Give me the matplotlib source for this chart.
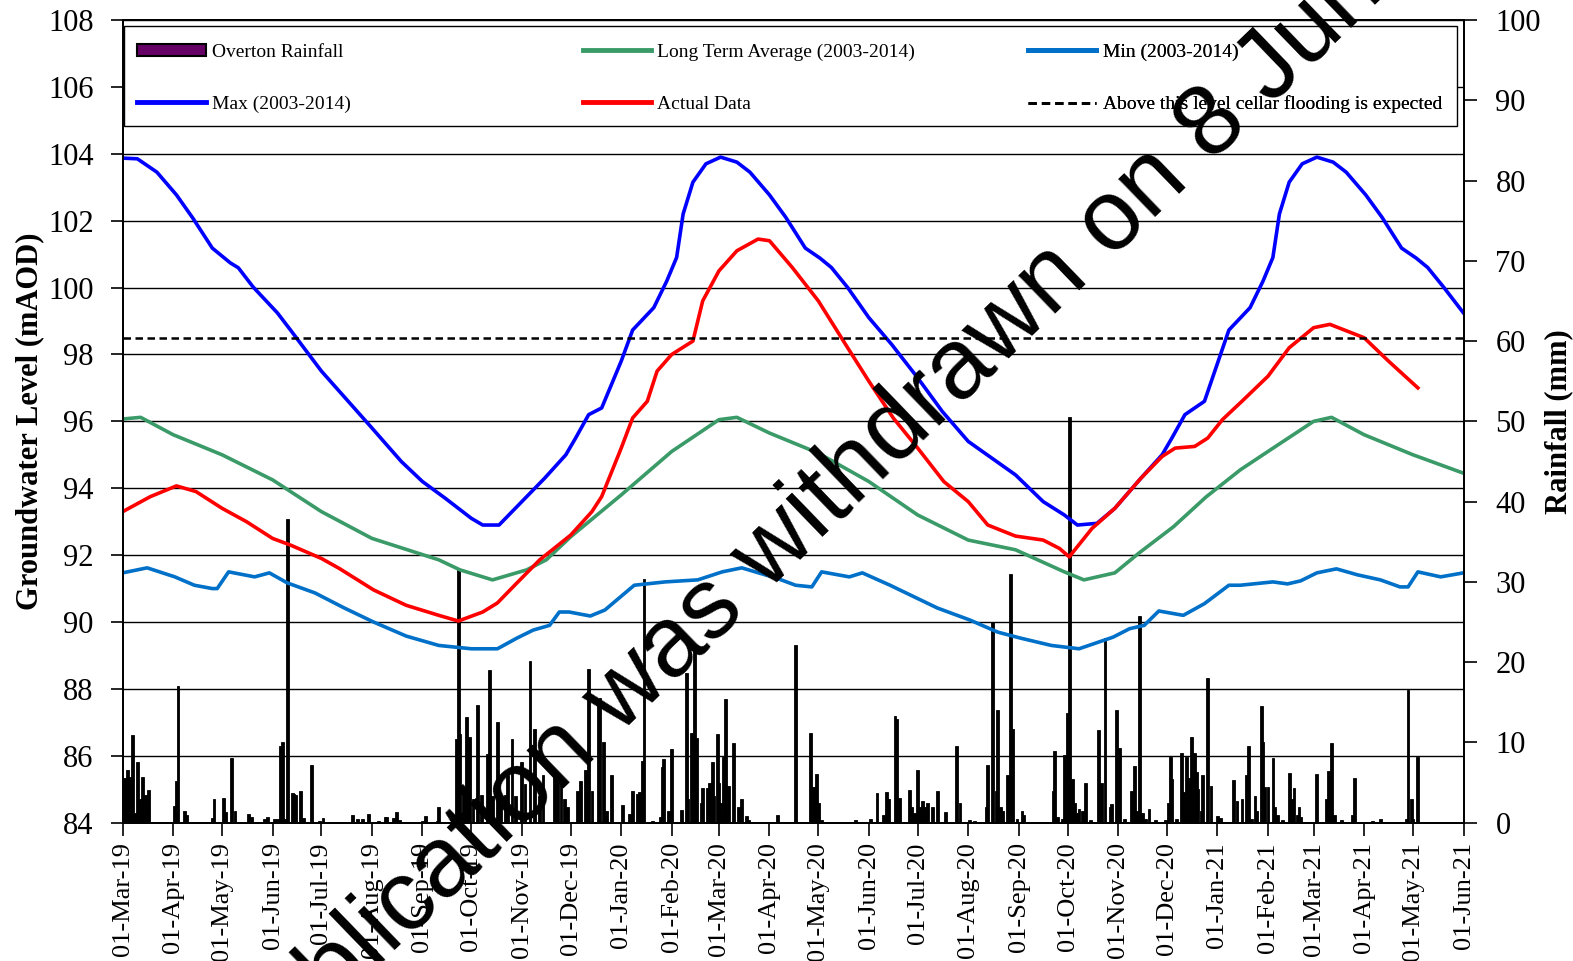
import numpy as np
import pandas as pd
import matplotlib
matplotlib.use("Agg")
import matplotlib.pyplot as plt
import matplotlib.dates as mdates
from matplotlib.patches import Patch, Rectangle
from matplotlib.lines import Line2D

plt.rcParams['font.family'] = ['Liberation Serif', 'DejaVu Serif']

# groundwater level series (mAOD)
max_dates = ['2019-03-01', '2019-03-10', '2019-03-22', '2019-04-03', '2019-04-13', '2019-04-25',
             '2019-05-06', '2019-05-11', '2019-05-20', '2019-06-04', '2019-06-12', '2019-07-01',
             '2019-08-01', '2019-08-19', '2019-09-01', '2019-09-15', '2019-10-01', '2019-10-08',
             '2019-10-18', '2019-11-01', '2019-11-15', '2019-11-28', '2019-12-04', '2019-12-12',
             '2019-12-20', '2020-01-01', '2020-01-08', '2020-01-21', '2020-01-29', '2020-02-04',
             '2020-02-08', '2020-02-14', '2020-02-22', '2020-03-02', '2020-03-12', '2020-03-20',
             '2020-04-01', '2020-04-11', '2020-04-23', '2020-05-02', '2020-05-09', '2020-05-19',
             '2020-06-01', '2020-06-15', '2020-07-01', '2020-07-16', '2020-08-01', '2020-08-30',
             '2020-09-16', '2020-09-29', '2020-10-07', '2020-10-19', '2020-10-30', '2020-11-15',
             '2020-11-28', '2020-12-04', '2020-12-12', '2020-12-18', '2020-12-24', '2021-01-08',
             '2021-01-21', '2021-01-29', '2021-02-04', '2021-02-08', '2021-02-14', '2021-02-22',
             '2021-03-03', '2021-03-13', '2021-03-21', '2021-04-02', '2021-04-12', '2021-04-24',
             '2021-05-03', '2021-05-10', '2021-05-20', '2021-06-01']
max_level = [103.87, 103.85, 103.45, 102.77, 102.08, 101.18,
             100.74, 100.59, 100.02, 99.24, 98.73, 97.5,
             95.8, 94.8, 94.2, 93.7, 93.1, 92.9,
             92.9, 93.6, 94.3, 95.0, 95.5, 96.2,
             96.4, 97.8, 98.73, 99.4, 100.2, 100.9,
             102.2, 103.15, 103.7, 103.9, 103.75, 103.45,
             102.77, 102.1, 101.18, 100.88, 100.6, 100.0,
             99.1, 98.3, 97.3, 96.3, 95.4, 94.4,
             93.6, 93.2, 92.9, 92.95, 93.4, 94.3,
             95.0, 95.5, 96.2, 96.4, 96.6, 98.73,
             99.4, 100.2, 100.9, 102.2, 103.15, 103.7,
             103.9, 103.75, 103.45, 102.77, 102.1, 101.18,
             100.88, 100.6, 100.0, 99.24]

lta_dates = ['2019-03-01', '2019-03-12', '2019-04-01', '2019-05-01', '2019-06-01', '2019-07-01',
             '2019-08-01', '2019-09-11', '2019-09-24', '2019-10-14', '2019-11-04', '2019-11-16',
             '2019-12-01', '2020-01-01', '2020-02-01', '2020-03-01', '2020-03-12', '2020-04-01',
             '2020-05-01', '2020-06-01', '2020-07-01', '2020-08-01', '2020-08-30', '2020-09-29',
             '2020-10-11', '2020-10-30', '2020-11-14', '2020-12-05', '2020-12-25', '2021-01-15',
             '2021-02-01', '2021-03-01', '2021-03-12', '2021-04-01', '2021-05-01', '2021-06-01']
lta_level = [96.07, 96.12, 95.6, 95.0, 94.25, 93.3,
             92.5, 91.86, 91.56, 91.26, 91.56, 91.86,
             92.55, 93.8, 95.1, 96.05, 96.12, 95.65,
             95.05, 94.2, 93.2, 92.45, 92.16, 91.5,
             91.26, 91.47, 92.07, 92.85, 93.74, 94.55,
             95.1, 96.0, 96.12, 95.6, 95.0, 94.45]

min_dates = ['2019-03-01', '2019-03-16', '2019-04-02', '2019-04-14', '2019-04-25', '2019-04-28',
             '2019-05-05', '2019-05-21', '2019-05-30', '2019-06-10', '2019-06-27', '2019-07-15',
             '2019-08-02', '2019-08-22', '2019-09-11', '2019-10-01', '2019-10-17', '2019-10-29',
             '2019-11-08', '2019-11-18', '2019-11-24', '2019-11-30', '2019-12-13', '2019-12-22',
             '2020-01-09', '2020-01-28', '2020-02-17', '2020-03-03', '2020-03-15', '2020-04-06',
             '2020-04-17', '2020-04-27', '2020-05-03', '2020-05-20', '2020-05-28', '2020-06-14',
             '2020-07-13', '2020-08-02', '2020-08-19', '2020-09-02', '2020-09-21', '2020-10-08',
             '2020-10-29', '2020-11-08', '2020-11-17', '2020-11-26', '2020-12-11', '2020-12-24',
             '2021-01-08', '2021-01-15', '2021-02-04', '2021-02-13', '2021-02-21', '2021-03-03',
             '2021-03-15', '2021-03-28', '2021-04-11', '2021-04-23', '2021-04-28', '2021-05-04',
             '2021-05-18', '2021-06-01']
min_level = [91.47, 91.62, 91.35, 91.1, 91.0, 91.0,
             91.5, 91.35, 91.47, 91.17, 90.87, 90.42,
             90.0, 89.58, 89.3, 89.2, 89.2, 89.52,
             89.76, 89.9, 90.3, 90.3, 90.18, 90.36,
             91.1, 91.2, 91.26, 91.5, 91.62, 91.3,
             91.1, 91.05, 91.5, 91.35, 91.47, 91.1,
             90.42, 90.06, 89.7, 89.52, 89.3, 89.2,
             89.55, 89.8, 89.9, 90.33, 90.2, 90.55,
             91.1, 91.1, 91.2, 91.14, 91.23, 91.47,
             91.59, 91.41, 91.26, 91.05, 91.05, 91.5,
             91.35, 91.47]

actual_dates = ['2019-03-01', '2019-03-18', '2019-04-03', '2019-04-15', '2019-05-01', '2019-05-16',
                '2019-06-01', '2019-06-12', '2019-07-01', '2019-07-12', '2019-08-02', '2019-08-22',
                '2019-09-11', '2019-09-23', '2019-10-08', '2019-10-17', '2019-10-29', '2019-11-12',
                '2019-12-01', '2019-12-14', '2019-12-20', '2020-01-01', '2020-01-08', '2020-01-17',
                '2020-01-23', '2020-02-01', '2020-02-14', '2020-02-20', '2020-03-01', '2020-03-12',
                '2020-03-25', '2020-04-01', '2020-04-15', '2020-05-01', '2020-05-19', '2020-06-01',
                '2020-06-16', '2020-07-01', '2020-07-17', '2020-08-01', '2020-08-13', '2020-08-30',
                '2020-09-16', '2020-09-26', '2020-10-02', '2020-10-16', '2020-10-30', '2020-11-15',
                '2020-11-28', '2020-12-06', '2020-12-18', '2020-12-26', '2021-01-04', '2021-01-16',
                '2021-02-01', '2021-02-14', '2021-03-01', '2021-03-11', '2021-04-01', '2021-04-16',
                '2021-05-04']
actual_level = [93.3, 93.75, 94.07, 93.9, 93.4, 93.0,
                92.5, 92.3, 91.9, 91.6, 90.96, 90.5,
                90.2, 90.03, 90.3, 90.57, 91.17, 91.86,
                92.6, 93.3, 93.75, 95.2, 96.1, 96.6,
                97.5, 98.0, 98.4, 99.6, 100.5, 101.1,
                101.45, 101.4, 100.6, 99.6, 98.2, 97.2,
                96.1, 95.2, 94.2, 93.6, 92.9, 92.57,
                92.45, 92.2, 91.95, 92.8, 93.4, 94.3,
                94.95, 95.2, 95.25, 95.5, 96.05, 96.6,
                97.35, 98.2, 98.8, 98.9, 98.5, 97.8,
                97.0]

flood_level = 98.5

# daily rainfall (mm), days with visible bars
rain_dates = ['2019-03-02', '2019-03-04', '2019-03-06', '2019-03-07', '2019-03-09', '2019-03-10',
              '2019-03-12', '2019-03-13', '2019-03-15', '2019-03-16', '2019-03-17', '2019-04-02',
              '2019-04-03', '2019-04-04', '2019-04-08', '2019-04-09', '2019-04-25', '2019-04-26',
              '2019-05-02', '2019-05-03', '2019-05-07', '2019-05-09', '2019-05-17', '2019-05-19',
              '2019-05-27', '2019-05-29', '2019-06-02', '2019-06-04', '2019-06-06', '2019-06-07',
              '2019-06-09', '2019-06-10', '2019-06-13', '2019-06-14', '2019-06-15', '2019-06-18',
              '2019-06-20', '2019-06-25', '2019-06-30', '2019-07-02', '2019-07-20', '2019-07-23',
              '2019-07-26', '2019-07-30', '2019-08-05', '2019-08-09', '2019-08-10', '2019-08-14',
              '2019-08-16', '2019-08-18', '2019-09-01', '2019-09-03', '2019-09-10', '2019-09-11',
              '2019-09-22', '2019-09-23', '2019-09-24', '2019-09-26', '2019-09-28', '2019-09-30',
              '2019-10-02', '2019-10-05', '2019-10-07', '2019-10-11', '2019-10-12', '2019-10-14',
              '2019-10-17', '2019-10-19', '2019-10-22', '2019-10-23', '2019-10-26', '2019-10-28',
              '2019-11-01', '2019-11-03', '2019-11-06', '2019-11-09', '2019-11-12', '2019-11-14',
              '2019-11-21', '2019-11-23', '2019-11-25', '2019-11-27', '2019-11-29', '2019-12-05',
              '2019-12-07', '2019-12-10', '2019-12-12', '2019-12-14', '2019-12-18', '2019-12-19',
              '2019-12-21', '2019-12-23', '2019-12-26', '2020-01-02', '2020-01-06', '2020-01-08',
              '2020-01-11', '2020-01-12', '2020-01-14', '2020-01-15', '2020-01-20', '2020-01-25',
              '2020-01-26', '2020-01-27', '2020-01-30', '2020-02-01', '2020-02-07', '2020-02-10',
              '2020-02-11', '2020-02-13', '2020-02-14', '2020-02-15', '2020-02-16', '2020-02-19',
              '2020-02-20', '2020-02-23', '2020-02-24', '2020-02-26', '2020-02-27', '2020-02-29',
              '2020-03-01', '2020-03-02', '2020-03-04', '2020-03-05', '2020-03-07', '2020-03-10',
              '2020-03-13', '2020-03-15', '2020-03-18', '2020-03-19', '2020-04-06', '2020-04-17',
              '2020-04-26', '2020-04-28', '2020-04-29', '2020-04-30', '2020-05-01', '2020-05-03',
              '2020-05-24', '2020-06-02', '2020-06-06', '2020-06-10', '2020-06-12', '2020-06-13',
              '2020-06-17', '2020-06-18', '2020-06-20', '2020-06-26', '2020-06-27', '2020-06-29',
              '2020-07-01', '2020-07-02', '2020-07-04', '2020-07-06', '2020-07-07', '2020-07-10',
              '2020-07-13', '2020-07-18', '2020-07-25', '2020-07-27', '2020-08-02', '2020-08-05',
              '2020-08-12', '2020-08-13', '2020-08-16', '2020-08-18', '2020-08-19', '2020-08-21',
              '2020-08-22', '2020-08-25', '2020-08-27', '2020-08-28', '2020-08-31', '2020-09-03',
              '2020-09-04', '2020-09-22', '2020-09-23', '2020-09-25', '2020-09-28', '2020-09-29',
              '2020-10-01', '2020-10-02', '2020-10-04', '2020-10-05', '2020-10-07', '2020-10-08',
              '2020-10-10', '2020-10-12', '2020-10-15', '2020-10-20', '2020-10-22', '2020-10-24',
              '2020-10-27', '2020-10-28', '2020-10-31', '2020-11-02', '2020-11-05', '2020-11-09',
              '2020-11-11', '2020-11-13', '2020-11-14', '2020-11-16', '2020-11-18', '2020-11-20',
              '2020-11-24', '2020-11-30', '2020-12-02', '2020-12-03', '2020-12-04', '2020-12-07',
              '2020-12-10', '2020-12-11', '2020-12-13', '2020-12-15', '2020-12-16', '2020-12-18',
              '2020-12-19', '2020-12-20', '2020-12-22', '2020-12-23', '2020-12-26', '2020-12-28',
              '2021-01-01', '2021-01-03', '2021-01-11', '2021-01-13', '2021-01-16', '2021-01-19',
              '2021-01-20', '2021-01-22', '2021-01-24', '2021-01-25', '2021-01-28', '2021-01-29',
              '2021-01-30', '2021-02-01', '2021-02-04', '2021-02-05', '2021-02-07', '2021-02-10',
              '2021-02-14', '2021-02-16', '2021-02-17', '2021-02-19', '2021-02-20', '2021-02-21',
              '2021-03-03', '2021-03-09', '2021-03-10', '2021-03-12', '2021-03-14', '2021-03-18',
              '2021-03-25', '2021-03-26', '2021-04-06', '2021-04-11', '2021-04-27', '2021-04-28',
              '2021-04-30', '2021-05-01', '2021-05-04']
rain_mm = [5.6, 6.6, 5.7, 10.9, 1.2, 7.6,
           3.0, 5.7, 3.4, 2.2, 4.1, 2.1,
           5.2, 17.0, 1.5, 1.0, 0.6, 2.9,
           3.1, 1.3, 8.0, 1.4, 1.1, 0.7,
           0.5, 0.7, 0.5, 0.5, 9.6, 10.0,
           0.5, 37.8, 3.7, 3.6, 3.5, 4.0,
           0.6, 7.2, 0.2, 0.6, 1.0, 0.5,
           0.5, 1.1, 0.2, 0.7, 0.7, 0.6,
           1.3, 0.3, 0.2, 0.8, 0.2, 2.0,
           10.4, 31.6, 11.0, 4.1, 13.2, 10.7,
           2.9, 14.7, 3.5, 8.5, 19.0, 3.3,
           12.6, 2.5, 3.5, 5.9, 10.4, 3.3,
           7.6, 4.8, 20.2, 11.7, 3.3, 5.9,
           6.4, 5.6, 4.9, 3.0, 1.9, 4.0,
           5.2, 6.6, 19.1, 3.9, 14.7, 15.5,
           10.0, 1.5, 6.0, 2.2, 1.1, 4.0,
           3.6, 3.8, 7.7, 30.3, 0.2, 0.7,
           6.9, 7.9, 1.5, 9.2, 1.6, 18.7,
           3.0, 11.2, 4.3, 21.8, 10.6, 2.5,
           4.3, 4.3, 4.9, 7.6, 3.3, 11.1,
           4.9, 2.5, 8.2, 15.4, 4.6, 9.9,
           1.9, 3.0, 0.8, 0.3, 0.9, 22.1,
           11.2, 4.4, 4.4, 6.1, 2.5, 0.3,
           0.3, 0.4, 3.7, 1.0, 3.8, 3.0,
           13.3, 12.9, 3.1, 4.1, 1.9, 1.2,
           6.6, 2.0, 2.7, 2.0, 2.5, 2.0,
           4.0, 1.3, 9.6, 2.5, 0.3, 0.2,
           1.9, 7.2, 25.0, 4.0, 14.0, 2.0,
           1.5, 6.0, 31.0, 11.7, 0.5, 1.5,
           1.0, 4.0, 8.9, 0.7, 0.5, 8.4,
           13.7, 50.6, 5.4, 2.4, 1.2, 1.7,
           1.5, 5.0, 0.3, 11.5, 5.0, 23.0,
           2.0, 2.3, 14.0, 9.3, 0.5, 4.0,
           7.1, 1.5, 25.8, 1.2, 0.5, 1.7,
           0.3, 0.3, 2.5, 8.2, 5.4, 0.4,
           8.7, 3.8, 8.2, 5.6, 10.7, 8.7,
           6.3, 4.2, 1.5, 5.9, 18.0, 4.6,
           0.8, 0.6, 5.3, 2.7, 2.9, 5.9,
           9.6, 0.4, 3.3, 1.5, 14.5, 10.0,
           4.5, 4.5, 8.1, 2.0, 1.0, 0.3,
           6.2, 2.9, 4.3, 1.0, 1.9, 0.7,
           6.1, 2.9, 6.4, 9.9, 1.0, 0.3,
           1.0, 5.6, 0.2, 0.4, 0.5, 16.5,
           2.9, 0.5, 8.2]

W, H = 1573, 961
fig = plt.figure(figsize=(W / 100, H / 100), dpi=100)
L, R, T, B = 122.7, 1463.5, 20, 822.7
ax = fig.add_axes([L / W, 1 - B / H, (R - L) / W, (B - T) / H])
ax2 = ax.twinx()
ax.set_zorder(ax2.get_zorder() + 1)
ax.patch.set_visible(False)

# rainfall bars (right axis)
ax2.bar(pd.to_datetime(rain_dates), rain_mm, width=1.7, color='black',
        edgecolor='black', linewidth=0.6)
ax2.set_ylim(0, 100)
ax2.set_yticks(np.arange(0, 101, 10))

# level lines (left axis)
lw = 2.6
ax.plot(pd.to_datetime(min_dates), min_level, color='#0070C8', lw=lw)
ax.plot(pd.to_datetime(lta_dates), lta_level, color='#3A9A68', lw=lw)
ax.plot(pd.to_datetime(max_dates), max_level, color='#0000FF', lw=lw)
ax.plot(pd.to_datetime(actual_dates), actual_level, color='#FF0000', lw=lw)
ax.axhline(flood_level, color='black', lw=1.8, ls=(0, (3, 1.8)))

ax.set_ylim(84, 108)
ax.set_yticks(np.arange(84, 109, 2))
ax.set_xlim(pd.Timestamp('2019-03-01'), pd.Timestamp('2021-06-01'))
ax.xaxis.set_major_locator(mdates.MonthLocator(bymonthday=1))
ax.xaxis.set_major_formatter(mdates.DateFormatter('%d-%b-%y'))
ax.yaxis.grid(True, color='black', lw=1.0)
ax.set_axisbelow(True)

for a in (ax, ax2):
    for s in a.spines.values():
        s.set_color('black')
        s.set_linewidth(1.3)
ax.tick_params(axis='y', direction='out', length=9, width=1.2, labelsize=22, pad=12)
ax.tick_params(axis='x', direction='out', length=9, width=1.2, labelsize=19,
               labelrotation=90, pad=5)
ax2.tick_params(axis='y', direction='out', length=9, width=1.2, labelsize=22, pad=14)

ax.set_ylabel('Groundwater Level (mAOD)', fontsize=22, fontweight='bold', labelpad=3)
ax2.set_ylabel('Rainfall (mm)', fontsize=22, fontweight='bold', labelpad=2)

# legend box spanning the top of the plot
ax.add_patch(Rectangle((0.001, 0.8677), 0.9945, 0.1248, transform=ax.transAxes,
                       facecolor='white', edgecolor='black', lw=1.0, zorder=5))
cols = [
    [(Patch(facecolor='#660066', edgecolor='black', lw=1.5), 'Overton Rainfall'),
     (Line2D([], [], color='#0000FF', lw=3.5), 'Max (2003-2014)')],
    [(Line2D([], [], color='#3A9A68', lw=3.5), 'Long Term Average (2003-2014)'),
     (Line2D([], [], color='#FF0000', lw=3.5), 'Actual Data')],
    [(Line2D([], [], color='#0070C8', lw=3.5), 'Min (2003-2014)'),
     (Line2D([], [], color='black', lw=2, ls=(0, (3, 1.8))), 'Above this level cellar flooding is expected')],
]
xs = [0.011, 0.343, 0.675]
for x0, col in zip(xs, cols):
    leg = ax.legend([h for h, _ in col], [t for _, t in col], loc='upper left',
                    bbox_to_anchor=(x0, 0.9705), frameon=False, fontsize=14,
                    handlelength=3.5, handleheight=0.6, handletextpad=0.35,
                    labelspacing=1.78, borderpad=0, borderaxespad=0)
    leg.set_zorder(6)
    ax.add_artist(leg)

# watermark
fig.text(835 / W, 1 - 490 / H, 'This publication was withdrawn on 8 June 2021',
         fontsize=72, family='Liberation Sans', rotation=44, rotation_mode='anchor',
         ha='center', va='center', color='black', zorder=20)

fig.savefig('out.png', dpi=100)
